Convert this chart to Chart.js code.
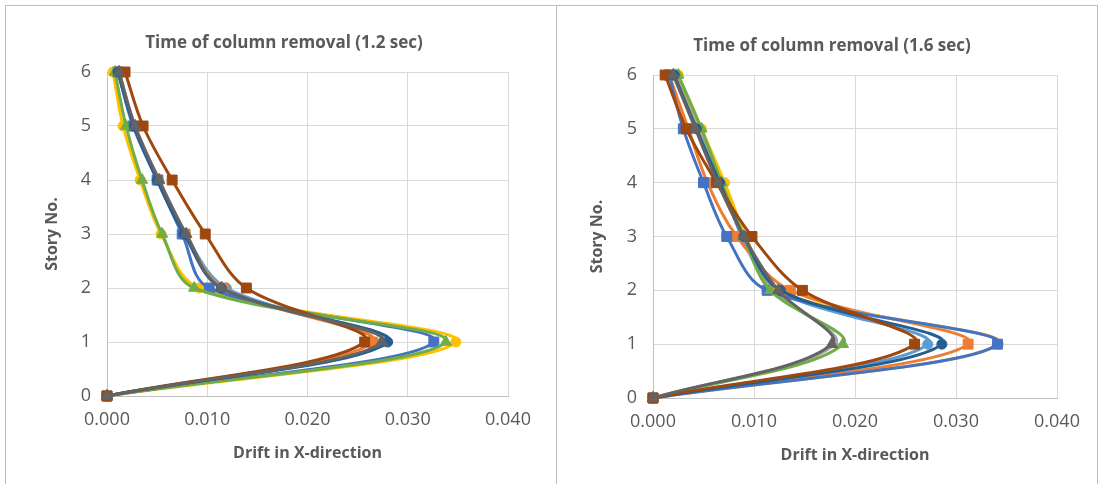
<!DOCTYPE html>
<html>
<head>
<meta charset="utf-8">
<script src="https://cdn.jsdelivr.net/npm/chart.js@4"></script>
<style>
  html, body { margin:0; padding:0; background:#ffffff; width:1107px; height:484px; overflow:hidden; }
  .ln { position:absolute; background:#bcbcbc; }
  .cv { position:absolute; }
</style>
</head>
<body>
<div class="ln" style="left:5px;top:5px;width:1093px;height:1px;"></div>
<div class="ln" style="left:5px;top:5px;width:1px;height:479px;"></div>
<div class="ln" style="left:556px;top:5px;width:1px;height:479px;"></div>
<div class="ln" style="left:1097px;top:5px;width:1px;height:479px;"></div>
<div class="cv" style="left:6px;top:6px;width:550px;height:478px;"><canvas id="c1"></canvas></div>
<div class="cv" style="left:557px;top:6px;width:540px;height:478px;"><canvas id="c2"></canvas></div>
<script>
// ---- data ----
const stories = [0, 1, 2, 3, 4, 5, 6];
const yTickLabels = ['0', '1', '2', '3', '4', '5', '6'];
const xTickLabels = ['0.000', '0.010', '0.020', '0.030', '0.040'];
const titleLeft = 'Time of column removal (1.2 sec)';
const titleRight = 'Time of column removal (1.6 sec)';
const xAxisTitle = 'Drift in X-direction';
const yAxisTitle = 'Story No.';

// 1.2 sec
const left_s1 = [0, 0.0275, 0.0119, 0.0078, 0.0051, 0.0027, 0.0011];
const left_s2 = [0, 0.0265, 0.0116, 0.0078, 0.0051, 0.0027, 0.0011];
const left_s3 = [0, 0.0277, 0.0115, 0.0079, 0.0052, 0.0028, 0.0012];
const left_s4 = [0, 0.0348, 0.0092, 0.0054, 0.0033, 0.0016, 0.0006];
const left_s5 = [0, 0.0326, 0.0102, 0.0075, 0.0050, 0.0026, 0.0011];
const left_s6 = [0, 0.0338, 0.0087, 0.0055, 0.0035, 0.0019, 0.0008];
const left_s7 = [0, 0.0280, 0.0114, 0.0077, 0.0050, 0.0027, 0.0011];
const left_s8 = [0, 0.0257, 0.0139, 0.0098, 0.0065, 0.0036, 0.0018];
const left_s9 = [0, 0.0274, 0.0114, 0.0079, 0.0052, 0.0028, 0.0012];

// 1.6 sec
const right_s1 = [0, 0.0272, 0.0122, 0.0088, 0.0068, 0.0045, 0.0023];
const right_s2 = [0, 0.0312, 0.0136, 0.0083, 0.0054, 0.0035, 0.0016];
const right_s3 = [0, 0.0180, 0.0120, 0.0090, 0.0066, 0.0045, 0.0022];
const right_s4 = [0, 0.0342, 0.0120, 0.0092, 0.0071, 0.0048, 0.0025];
const right_s5 = [0, 0.0341, 0.0113, 0.0073, 0.0050, 0.0030, 0.0016];
const right_s6 = [0, 0.0188, 0.0116, 0.0090, 0.0068, 0.0048, 0.0025];
const right_s7 = [0, 0.0286, 0.0126, 0.0090, 0.0066, 0.0043, 0.0021];
const right_s8 = [0, 0.0259, 0.0148, 0.0098, 0.0063, 0.0033, 0.0012];
const right_s9 = [0, 0.0177, 0.0124, 0.0090, 0.0064, 0.0042, 0.0020];

// ---- styling ----
const colors = ['#5B9BD5', '#ED7D31', '#A5A5A5', '#FFC000', '#4472C4', '#70AD47', '#255E91', '#9E480E', '#636363'];
const markers = ['circle', 'rect', 'triangle', 'circle', 'rect', 'triangle', 'circle', 'rect', 'triangle'];
const markerRadius = { circle: 5, rect: 7, triangle: 6.5 };
const FONT = "'Open Sans', 'Liberation Sans', sans-serif";
const TXT = '#595959';

function makeDatasets(series) {
  const n = series.length;
  return series.map((vals, i) => ({
    data: stories.map((s, k) => ({ x: vals[k], y: s })),
    borderColor: colors[i],
    backgroundColor: colors[i],
    borderWidth: 3,
    tension: 0.35,
    clip: false,
    pointStyle: markers[i],
    pointRadius: markerRadius[markers[i]],
    pointBorderWidth: 1,
    pointBorderColor: colors[i],
    pointBackgroundColor: colors[i],
    fill: false,
    order: n - i
  }));
}

const panelTitle = {
  id: 'panelTitle',
  afterDraw(chart, args, opts) {
    const ctx = chart.ctx;
    ctx.save();
    ctx.font = 'bold 17px ' + FONT;
    ctx.fillStyle = TXT;
    ctx.textAlign = 'center';
    ctx.textBaseline = 'middle';
    ctx.fillText(opts.text, opts.x, opts.y);
    ctx.restore();
  }
};

function makeChart(id, series, cfg) {
  return new Chart(document.getElementById(id), {
    type: 'line',
    data: { datasets: makeDatasets(series) },
    plugins: [panelTitle],
    options: {
      responsive: true,
      maintainAspectRatio: false,
      animation: false,
      events: [],
      layout: { padding: { top: cfg.padTop, left: 0, right: cfg.padRight, bottom: 0 } },
      plugins: {
        legend: { display: false },
        tooltip: { enabled: false },
        title: { display: false },
        panelTitle: { text: cfg.title, x: cfg.titleX, y: cfg.titleY }
      },
      scales: {
        x: {
          type: 'linear',
          min: 0, max: 0.04,
          afterFit: s => { s.height = cfg.xH; },
          ticks: {
            stepSize: 0.01,
            padding: 13,
            color: TXT,
            font: { family: FONT, size: 18 },
            callback: (v, i) => xTickLabels[i]
          },
          grid: { color: '#d9d9d9', lineWidth: 1, drawTicks: false },
          border: { color: '#bfbfbf', width: 1 },
          title: {
            display: true, text: xAxisTitle, color: TXT,
            font: { family: FONT, size: 16, weight: 'bold' },
            padding: { top: 0, bottom: cfg.xTitlePad }
          }
        },
        y: {
          type: 'linear',
          min: 0, max: 6,
          afterFit: s => { s.width = cfg.yW; },
          ticks: {
            stepSize: 1,
            padding: 16,
            color: TXT,
            font: { family: FONT, size: 18 },
            callback: (v, i) => yTickLabels[i]
          },
          grid: { color: '#d9d9d9', lineWidth: 1, drawTicks: false },
          border: { color: '#bfbfbf', width: 1 },
          title: {
            display: true, text: yAxisTitle, color: TXT,
            font: { family: FONT, size: 16, weight: 'bold' },
            padding: { top: cfg.yTitlePad, bottom: 0 }
          }
        }
      }
    }
  });
}

makeChart('c1', [left_s1, left_s2, left_s3, left_s4, left_s5, left_s6, left_s7, left_s8, left_s9], {
  padTop: 66, padRight: 48, yW: 101, xH: 88, xTitlePad: 21, yTitlePad: 37,
  title: titleLeft, titleX: 278, titleY: 37
});
makeChart('c2', [right_s1, right_s2, right_s3, right_s4, right_s5, right_s6, right_s7, right_s8, right_s9], {
  padTop: 69, padRight: 40, yW: 96, xH: 86, xTitlePad: 19, yTitlePad: 31,
  title: titleRight, titleX: 275, titleY: 40
});
</script>
</body>
</html>
